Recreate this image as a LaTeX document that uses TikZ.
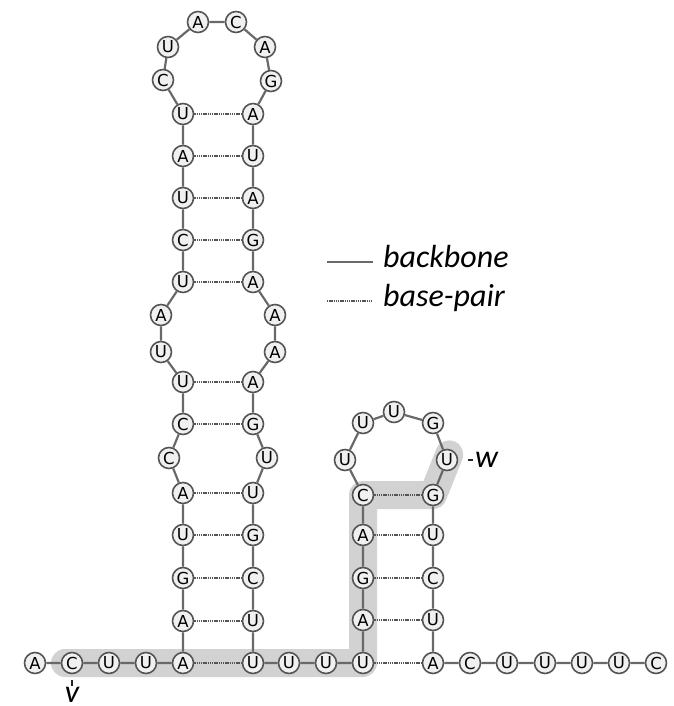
\documentclass[tikz,border=0pt]{standalone}
\usepackage{fontspec}
\setmainfont{Carlito}
\newfontfamily\nucfont{DejaVu Sans}
\usetikzlibrary{backgrounds}
\definecolor{rim}{RGB}{85,85,85}
\definecolor{strand}{RGB}{105,105,105}
\definecolor{hilite}{RGB}{210,210,210}
\definecolor{fillin}{RGB}{240,240,240}

\begin{document}
\begin{tikzpicture}[x=1pt,y=-1pt,
 every node/.style={font=\fontsize{32}{38}\selectfont\itshape,text=black},
 nt/.style={circle,draw=rim,fill=fillin,line width=1.6pt,minimum size=21pt,
            inner sep=0pt,font=\fontsize{16.5}{19}\selectfont\nucfont},
 backbone/.style={strand,line width=2.2pt},
 bpair/.style={rim,line width=1.8pt,dash pattern=on 1.4pt off 0.8pt},
 trace/.style={hilite,line width=28pt,line cap=round,line join=round},
 tick/.style={black!85,line width=1.5pt},
 keytext/.style={anchor=base west,inner sep=10pt}]
 \path[use as bounding box] (0,0) rectangle (673,706);
 % bottom strand, left part
 \node[nt] (a1) at (35,663) {A};
 \node[nt] (a2) at (72,663) {C};
 \node[nt] (a3) at (109,663) {U};
 \node[nt] (a4) at (146,663) {U};
 \node[nt] (a5) at (183,663) {A};
 % long hairpin, 5' side
 \node[nt] (l1) at (183,621) {A};
 \node[nt] (l2) at (183,578) {G};
 \node[nt] (l3) at (183,535) {U};
 \node[nt] (l4) at (183,493) {A};
 \node[nt] (l5) at (169,458) {C};
 \node[nt] (l6) at (183,424) {C};
 \node[nt] (l7) at (183,382) {U};
 \node[nt] (l8) at (161,352) {U};
 \node[nt] (l9) at (161,315) {A};
 \node[nt] (l10) at (183,282) {U};
 \node[nt] (l11) at (183,240) {C};
 \node[nt] (l12) at (183,198) {U};
 \node[nt] (l13) at (183,156) {A};
 \node[nt] (l14) at (183,114) {U};
 \node[nt] (h1) at (163,80) {C};
 \node[nt] (h2) at (168,47) {U};
 \node[nt] (h3) at (198,22) {A};
 \node[nt] (h4) at (236,22) {C};
 \node[nt] (h5) at (265,47) {A};
 \node[nt] (h6) at (271,81) {G};
 % long hairpin, 3' side
 \node[nt] (r14) at (253,114) {A};
 \node[nt] (r13) at (253,156) {U};
 \node[nt] (r12) at (253,198) {A};
 \node[nt] (r11) at (253,240) {G};
 \node[nt] (r10) at (253,282) {A};
 \node[nt] (r9) at (275,315) {A};
 \node[nt] (r8) at (275,352) {A};
 \node[nt] (r7) at (253,382) {A};
 \node[nt] (r6) at (253,424) {G};
 \node[nt] (r5) at (267,458) {U};
 \node[nt] (r4) at (253,493) {U};
 \node[nt] (r3) at (253,535) {G};
 \node[nt] (r2) at (253,578) {C};
 \node[nt] (r1) at (253,621) {U};
 \node[nt] (b1) at (253,663) {U};
 \node[nt] (b2) at (289,663) {U};
 \node[nt] (b3) at (326,663) {U};
 \node[nt] (b4) at (363,663) {U};
 % short hairpin
 \node[nt] (s1) at (363,620) {A};
 \node[nt] (s2) at (363,578) {G};
 \node[nt] (s3) at (363,535) {A};
 \node[nt] (s4) at (363,495) {C};
 \node[nt] (k1) at (345,460) {U};
 \node[nt] (k2) at (363,423) {U};
 \node[nt] (k3) at (394,412) {U};
 \node[nt] (k4) at (433,423) {G};
 \node[nt] (k5) at (447,460) {U};
 \node[nt] (t4) at (433,495) {G};
 \node[nt] (t3) at (433,535) {U};
 \node[nt] (t2) at (433,578) {C};
 \node[nt] (t1) at (433,620) {U};
 % bottom strand, right part
 \node[nt] (c1) at (433,663) {A};
 \node[nt] (c2) at (470,663) {C};
 \node[nt] (c3) at (507,663) {U};
 \node[nt] (c4) at (545,663) {U};
 \node[nt] (c5) at (582,663) {U};
 \node[nt] (c6) at (619,663) {U};
 \node[nt] (c7) at (656,663) {C};
 \begin{pgfonlayer}{background}
  \draw[trace,shorten <=-7pt,shorten >=-6pt]
       (a2.center) -- (b4.center) -- (s4.center) -- (t4.center) -- (k5.center);
  \draw[backbone] (a1) -- (a2) -- (a3) -- (a4) -- (a5) -- (l1) -- (l2) -- (l3)
       -- (l4) -- (l5) -- (l6) -- (l7) -- (l8) -- (l9) -- (l10) -- (l11)
       -- (l12) -- (l13) -- (l14) -- (h1) -- (h2) -- (h3) -- (h4) -- (h5)
       -- (h6) -- (r14) -- (r13) -- (r12) -- (r11) -- (r10) -- (r9) -- (r8)
       -- (r7) -- (r6) -- (r5) -- (r4) -- (r3) -- (r2) -- (r1) -- (b1)
       -- (b2) -- (b3) -- (b4) -- (s1) -- (s2) -- (s3) -- (s4) -- (k1)
       -- (k2) -- (k3) -- (k4) -- (k5) -- (t4) -- (t3) -- (t2) -- (t1)
       -- (c1) -- (c2) -- (c3) -- (c4) -- (c5) -- (c6) -- (c7);
 \end{pgfonlayer}
 \draw[bpair] (a5) -- (b1);
 \draw[bpair] (l1) -- (r1);
 \draw[bpair] (l2) -- (r2);
 \draw[bpair] (l3) -- (r3);
 \draw[bpair] (l4) -- (r4);
 \draw[bpair] (l6) -- (r6);
 \draw[bpair] (l7) -- (r7);
 \draw[bpair] (l10) -- (r10);
 \draw[bpair] (l11) -- (r11);
 \draw[bpair] (l12) -- (r12);
 \draw[bpair] (l13) -- (r13);
 \draw[bpair] (l14) -- (r14);
 \draw[bpair] (b4) -- (c1);
 \draw[bpair] (s1) -- (t1);
 \draw[bpair] (s2) -- (t2);
 \draw[bpair] (s3) -- (t3);
 \draw[bpair] (s4) -- (t4);
 % end labels of the marked path
 \node[anchor=north,inner sep=1pt] (vlab) at (72,686) {v};
 \draw[tick,shorten <=5.5pt,shorten >=0pt] (a2) -- (vlab);
 \node[anchor=west,inner sep=0pt] (wlab) at (475,460) {w};
 \draw[tick,shorten <=9.5pt,shorten >=2pt] (k5) -- (wlab);
 % legend
 \coordinate (bb0) at (327,262);
 \node[keytext] (bbtxt) at (373,267) {backbone};
 \draw[backbone] (bb0) -- (bb0 -| bbtxt.west);
 \coordinate (bp0) at (327,301);
 \node[keytext] (bptxt) at (373,306) {base-pair};
 \draw[bpair] (bp0) -- (bp0 -| bptxt.west);
\end{tikzpicture}
\end{document}
